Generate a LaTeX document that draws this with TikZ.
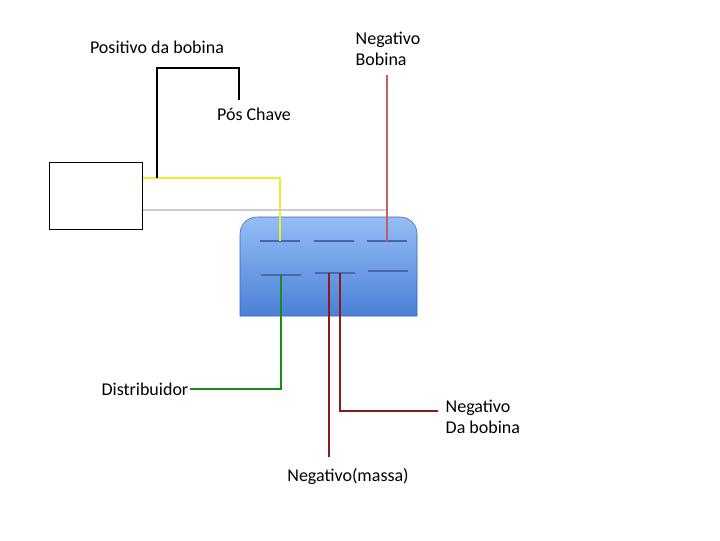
\documentclass[tikz,border=0pt]{standalone}
\usepackage{fontspec}
\setmainfont{Carlito}
\usetikzlibrary{positioning}
\definecolor{pinblue}{HTML}{4868A8}
\definecolor{wireyellow}{HTML}{EEEE30}
\definecolor{wirered}{HTML}{C06060}
\definecolor{wiredark}{HTML}{8B1A1A}
\definecolor{wiregreen}{HTML}{1A8A1A}
\definecolor{bodytop}{HTML}{95BDF6}
\definecolor{bodybot}{HTML}{4A80D6}
\begin{document}
\begin{tikzpicture}[x=0.025cm,y=-0.025cm,
  every node/.style={font=\fontsize{12.8}{15}\selectfont,inner sep=1pt},
  pin/.style={pinblue,line width=2pt},
  wire/.style={line width=2pt}]
  \useasboundingbox (0,0) rectangle (720,540);
  % box and connector body
  \node[draw,thick,minimum width=93*0.025cm,minimum height=67*0.025cm,anchor=north west] (box) at (49,162) {};
  \shade[top color=bodytop,bottom color=bodybot,draw=bodybot!80!black]
    (240,316) [rounded corners=12pt]-- (240,217) -- (417,217) [sharp corners]-- (417,316) -- cycle;
  % pins
  \coordinate (p1) at (280,241); \coordinate (p2) at (334,241); \coordinate (p3) at (387,241);
  \coordinate (q1) at (281,275); \coordinate (q2) at (335,273); \coordinate (q3) at (388,271);
  \foreach \p in {p1,p2,p3,q1,q2,q3}
    \draw[pin] ([xshift=-20*0.025cm]\p) -- ([xshift=20*0.025cm]\p);
  % labels
  \node (pos) at (157,47) {Positivo da bobina};
  \node (chave) at (254,114) {Pós Chave};
  \node[align=left,anchor=north west] (negbob) at (354,30) {Negativo\\Bobina};
  \node[anchor=east] (dist) at (190,389) {Distribuidor};
  \node[align=left,anchor=north west] (negda) at (444,398) {Negativo\\Da bobina};
  \node (massa) at (348,476) {Negativo(massa)};
  % wires
  \draw[wire,wireyellow] (box.north east |- 0,178) -- (280,178) -- (p1);
  \draw[wire,black] (157,178) -- (157,68) -- (239,68) -- (239,100);
  \draw[black!20,line width=1.2pt] (box.north east |- 0,210) -- (387,210);
  \draw[wirered,line width=1.3pt] (387,75) -- (p3);
  \draw[wire,wiregreen] (q1) |- (dist.east);
  \draw[wire,wiredark] (329,273) -- (329,457);
  \draw[wire,wiredark] (340,273) -- (340,411) -- (438,411);
\end{tikzpicture}
\end{document}
